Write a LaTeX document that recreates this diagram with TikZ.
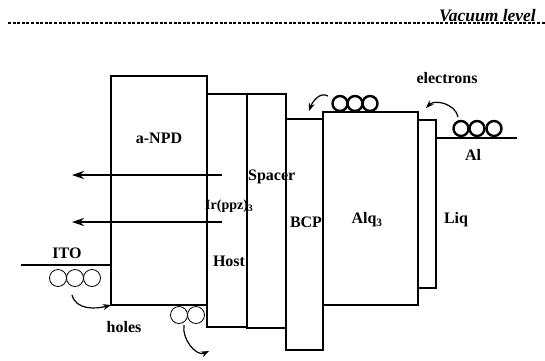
\documentclass[tikz,border=0pt]{standalone}
\usepackage{fontspec}
\setmainfont{Liberation Serif}
\usetikzlibrary{arrows.meta}
\begin{document}
\begin{tikzpicture}[x=1pt,y=-1pt,
  layer/.style={draw, line width=1.4pt, inner sep=0pt, outer sep=0pt, anchor=north west},
  lbl/.style={font=\fontsize{16}{18}\selectfont\bfseries, inner sep=0pt},
  thinball/.style={draw, circle, line width=0.8pt, minimum size=17pt, inner sep=0pt},
  thickball/.style={draw, circle, line width=2.4pt, minimum size=15pt, inner sep=0pt},
  bigarrow/.style={line width=1.8pt, -{Stealth[length=12pt,width=8pt]}},
  curvearrow/.style={line width=1.2pt, -{Stealth[length=8pt,width=6pt]}}]
\useasboundingbox (0,0) rectangle (545,360);
% vacuum level
\coordinate (vl) at (8,23);
\coordinate (vr) at (545,23);
\draw[line width=1.6pt, dash pattern=on 3pt off 1.6pt] (vl) -- (vr);
\node[font=\fontsize{17.5}{19}\selectfont\bfseries\itshape, inner sep=0pt, anchor=base east] (vac) at (536,21) {Vacuum level};
% layers
\node[layer, minimum width=96pt, minimum height=229pt] (npd) at (111,76) {};
\node[layer, minimum width=40pt, minimum height=233pt] (host) at (207,94) {};
\node[layer, minimum width=39pt, minimum height=234pt] (spacer) at (247,94) {};
\node[layer, minimum width=37pt, minimum height=231pt] (bcp) at (286,119) {};
\node[layer, minimum width=95pt, minimum height=193pt] (alq) at (323,112) {};
\node[layer, minimum width=18pt, minimum height=168pt] (liq) at (418,120) {};
\draw[line width=2.8pt] (host.north west) -- (host.south west);
\draw[line width=2.8pt] (host.north east) -- (host.south east);
% electrodes
\coordinate (itoL) at (21,265);
\coordinate (itoR) at (111,265);
\draw[line width=1.4pt] (itoL) -- (itoR);
\coordinate (alL) at (436,138);
\coordinate (alR) at (517,138);
\draw[line width=1.4pt] (alL) -- (alR);
% labels
\node[lbl] (tnpd) at (159,138) {a-NPD};
\node[lbl, anchor=west] (tspacer) at (248,177) {Spacer};
\node[font=\fontsize{14}{16}\selectfont\bfseries, inner sep=0pt, anchor=west] (tir) at (205,206) {Ir(ppz)\textsubscript{3}};
\node[lbl] (thost) at (229,261) {Host};
\node[lbl] (tbcp) at (306,222) {BCP};
\node[lbl] (talq) at (367,220) {Alq\textsubscript{3}};
\node[lbl] (tliq) at (456,220) {Liq};
\node[lbl] (tal) at (473,155) {Al};
\node[lbl] (tito) at (67,253) {ITO};
\node[lbl] (tholes) at (124,327) {holes};
\node[lbl] (telec) at (447,78) {electrons};
% holes and electrons
\node[thinball] (h1) at (58,278) {};
\node[thinball] (h2) at (75,278) {};
\node[thinball] (h3) at (92,278) {};
\node[thinball] (h4) at (179,315) {};
\node[thinball] (h5) at (196,315) {};
\node[thickball] (e1) at (340,103.5) {};
\node[thickball] (e2) at (355,103.5) {};
\node[thickball] (e3) at (370,103.5) {};
\node[thickball] (e4) at (461,128.5) {};
\node[thickball] (e5) at (477,128.5) {};
\node[thickball] (e6) at (494,128.5) {};
% emission arrows
\coordinate (a1s) at (222,175);
\coordinate (a1e) at (72,175);
\coordinate (a2s) at (222,222);
\coordinate (a2e) at (72,222);
\draw[bigarrow] (a1s) -- (a1e);
\draw[bigarrow] (a2s) -- (a2e);
% curved arrows
\coordinate (c1s) at (328,96);
\coordinate (c1e) at (309,111);
\draw[curvearrow] (c1s) to[out=150,in=70] (c1e);
\coordinate (c2s) at (458,117);
\coordinate (c2e) at (426,108);
\draw[curvearrow] (c2s) to[out=100,in=45] (c2e);
\coordinate (c3s) at (72,295);
\draw[curvearrow] (c3s) to[out=-75,in=195] (npd.south west);
\coordinate (c4s) at (184,325);
\coordinate (c4e) at (209,351);
\draw[curvearrow] (c4s) to[out=-100,in=205] (c4e);
\end{tikzpicture}
\end{document}
